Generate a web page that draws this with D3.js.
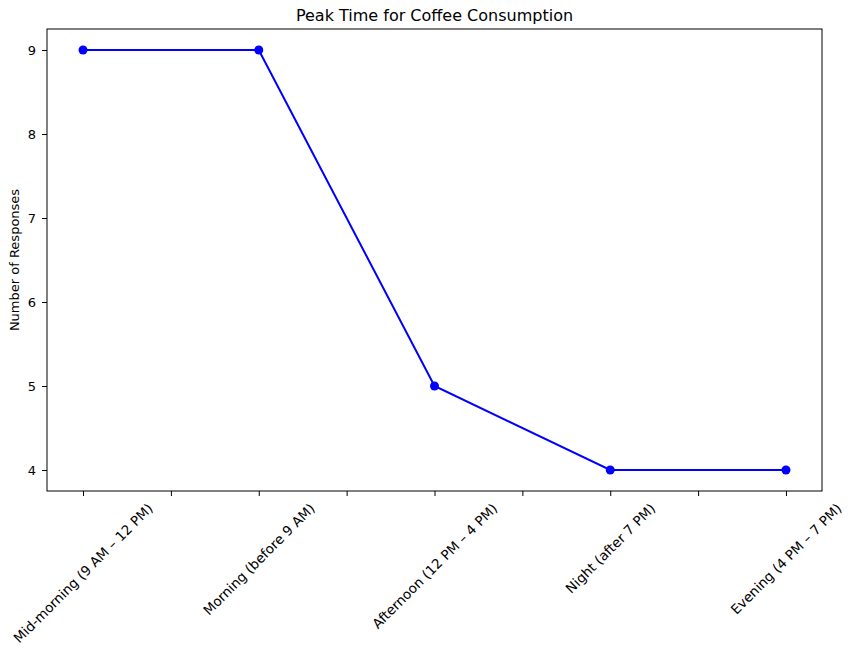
<!DOCTYPE html>
<html><head><meta charset="utf-8">
<script src="https://cdn.jsdelivr.net/npm/d3@7"></script>
<style>body{margin:0;background:#fff;font-family:"DejaVu Sans",sans-serif}</style>
</head><body>
<svg id="c" width="852" height="650" font-family="DejaVu Sans"></svg>
<script>
const categories = ["Mid-morning (9 AM – 12 PM)","Morning (before 9 AM)","Afternoon (12 PM – 4 PM)","Night (after 7 PM)","Evening (4 PM – 7 PM)"];
const responses = [9, 9, 5, 4, 4];
const yTicks = [4, 5, 6, 7, 8, 9];
const xTickPositions = [0, 0.5, 1, 1.5, 2, 2.5, 3, 3.5, 4];

const svg = d3.select("#c");
const L = 47, R = 822, T = 29, B = 491;
const x = d3.scaleLinear().domain([-0.205, 4.205]).range([L, R]);
const y = d3.scaleLinear().domain([3.75, 9.25]).range([B, T]);

svg.append("rect").attr("x", L).attr("y", T).attr("width", R - L).attr("height", B - T)
  .attr("fill", "none").attr("stroke", "#000").attr("stroke-width", 1);

const xa = svg.append("g").attr("transform", `translate(0,${B})`)
  .call(d3.axisBottom(x).tickValues(xTickPositions).tickSize(5).tickFormat(""));
xa.select(".domain").remove();
xa.selectAll("line").attr("stroke", "#000");
xa.selectAll(".lbl").data(categories).enter().append("text")
  .attr("font-size", 13.5).attr("font-family", "DejaVu Sans").attr("fill", "#000")
  .attr("text-anchor", "middle").attr("dominant-baseline", "central").text(d => d)
  .each(function(d, i) {
    const len = this.getComputedTextLength();
    const cy = 10 + (len * 0.7071 + 13.5 * 0.7071) / 2;
    d3.select(this).attr("transform", `translate(${x(i)},${cy}) rotate(-45)`);
  });

const ya = svg.append("g").attr("transform", `translate(${L},0)`)
  .call(d3.axisLeft(y).tickValues(yTicks).tickSize(5).tickPadding(6).tickFormat(d3.format("d")));
ya.select(".domain").remove();
ya.selectAll("line").attr("stroke", "#000");
ya.selectAll("text").attr("font-size", 13).attr("fill", "#000").attr("font-family", "DejaVu Sans");

svg.append("text").attr("transform", `translate(19,${(T + B) / 2}) rotate(-90)`)
  .attr("text-anchor", "middle").attr("font-size", 13).text("Number of Responses");
svg.append("text").attr("x", (L + R) / 2).attr("y", 21).attr("text-anchor", "middle")
  .attr("font-size", 16).text("Peak Time for Coffee Consumption");

const line = d3.line().x((d, i) => x(i)).y(d => y(d));
svg.append("path").datum(responses).attr("d", line).attr("fill", "none")
  .attr("stroke", "#0000ff").attr("stroke-width", 2);
svg.selectAll(".pt").data(responses).enter().append("circle")
  .attr("cx", (d, i) => x(i)).attr("cy", d => y(d)).attr("r", 4.5).attr("fill", "#0000ff");
</script>
</body></html>
